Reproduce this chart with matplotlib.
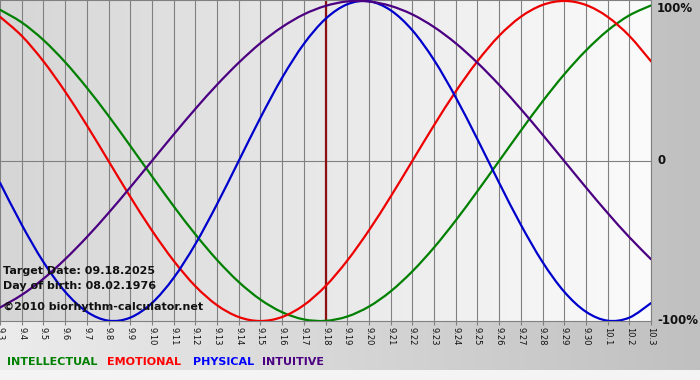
import numpy as np
import matplotlib
matplotlib.use("Agg")
import matplotlib.pyplot as plt
from matplotlib.path import Path
from matplotlib.patches import PathPatch

# ---- data ----
dates = ["9.3", "9.4", "9.5", "9.6", "9.7", "9.8", "9.9", "9.10", "9.11", "9.12",
         "9.13", "9.14", "9.15", "9.16", "9.17", "9.18", "9.19", "9.20", "9.21", "9.22",
         "9.23", "9.24", "9.25", "9.26", "9.27", "9.28", "9.29", "9.30", "10.1", "10.2", "10.3"]
target_label = "9.18"

physical = [-13.6, -39.8, -63.1, -81.7, -94.2, -99.8, -97.9, -88.8, -73.1, -52.0,
            -27.0, 0.0, 27.0, 52.0, 73.1, 88.8, 97.9, 99.8, 94.2, 81.7,
            63.1, 39.8, 13.6, -13.6, -39.8, -63.1, -81.7, -94.2, -99.8, -97.9, -88.8]
emotional = [90.1, 78.2, 62.3, 43.4, 22.3, 0.0, -22.3, -43.4, -62.3, -78.2,
             -90.1, -97.5, -100.0, -97.5, -90.1, -78.2, -62.3, -43.4, -22.3, 0.0,
             22.3, 43.4, 62.3, 78.2, 90.1, 97.5, 100.0, 97.5, 90.1, 78.2, 62.3]
intellectual = [94.5, 86.6, 75.6, 61.8, 45.8, 28.2, 9.5, -9.5, -28.2, -45.8,
                -61.8, -75.6, -86.6, -94.5, -99.0, -99.9, -97.2, -91.0, -81.5, -69.0,
                -54.1, -37.2, -18.9, 0.0, 18.9, 37.2, 54.1, 69.0, 81.5, 91.0, 97.2]
intuitive = [-91.6, -83.7, -73.6, -61.4, -47.6, -32.5, -16.5, 0.0, 16.5, 32.5,
             47.6, 61.4, 73.6, 83.7, 91.6, 96.9, 99.7, 99.7, 96.9, 91.6,
             83.7, 73.6, 61.4, 47.6, 32.5, 16.5, 0.0, -16.5, -32.5, -47.6, -61.4]

series_names = ["INTELLECTUAL", "EMOTIONAL", "PHYSICAL", "INTUITIVE"]
series_colors = ["#008000", "#ee0000", "#0000cc", "#4b0082"]
legend_colors = ["#008000", "#ff0000", "#0000ff", "#4b0082"]
ytick_labels = ["100%", "0", "-100%"]
info_lines = ["Target Date: 09.18.2025", "Day of birth: 08.02.1976",
              "\u00a92010 biorhythm-calculator.net"]


def smooth_path(xs, ys):
    """Smooth (Catmull-Rom style) bezier path passing through the data points."""
    p = np.column_stack([xs, ys]).astype(float)
    pp = np.vstack([p[0], p, p[-1]])
    verts = [tuple(p[0])]
    codes = [Path.MOVETO]
    for i in range(len(p) - 1):
        p0, p1, p2, p3 = pp[i], pp[i + 1], pp[i + 2], pp[i + 3]
        c1 = p1 + (p2 - p0) / 6.0
        c2 = p2 - (p3 - p1) / 6.0
        verts += [tuple(c1), tuple(c2), tuple(p2)]
        codes += [Path.CURVE4, Path.CURVE4, Path.CURVE4]
    return Path(verts, codes)


W, H = 700, 380
fig = plt.figure(figsize=(W / 100, H / 100), dpi=100)

# ---- background ----
bg = fig.add_axes([0, 0, 1, 1], zorder=-10)
grad = np.linspace(0xec, 0xc0, 256) / 255.0
img = np.dstack([grad, grad, grad]).reshape(1, 256, 3)
bg.imshow(img, extent=[0, W, 0, H], aspect="auto")
bg.add_patch(plt.Rectangle((0, 0), W, 10, color="#f4f4f4", lw=0))
bg.set_xlim(0, W)
bg.set_ylim(0, H)
bg.axis("off")

# ---- main plot ----
ax = fig.add_axes([0, 59 / H, 651 / W, 321 / H])
x = np.arange(len(dates))
ax.set_xlim(0, len(dates) - 1)
ax.set_ylim(-100, 100.6)

g2 = np.linspace(0xd6, 0xfb, 256) / 255.0
img2 = np.dstack([g2, g2, g2]).reshape(1, 256, 3)
ax.imshow(img2, extent=[0, len(dates) - 1, -100, 100.6], aspect="auto", zorder=0)

for xi in x:
    ax.axvline(xi, color="#808080", lw=0.8, zorder=1)
ax.axhline(0, color="#808080", lw=0.8, zorder=1)

ti = dates.index(target_label)
ax.axvline(ti, color="#8b1010", lw=1.6, zorder=2)

data = [intellectual, emotional, physical, intuitive]
for vals, c in zip(data, series_colors):
    patch = PathPatch(smooth_path(x, vals), facecolor="none", edgecolor=c,
                      lw=1.6, zorder=3, capstyle="round", joinstyle="round")
    ax.add_patch(patch)

for side in ["top", "right", "bottom"]:
    ax.spines[side].set_color("#808080")
    ax.spines[side].set_linewidth(0.8)
ax.spines["left"].set_visible(False)

ax.set_xticks(x)
ax.set_xticklabels(dates, rotation=-90, fontsize=6, color="#111111")
ax.tick_params(axis="x", length=3, width=0.8, color="#808080", pad=1)
ax.tick_params(axis="y", left=False, labelleft=False)

# y labels on the right (pixel rows of their centres)
ylab_px = [8, 161, 321]
for lab, py in zip(ytick_labels, ylab_px):
    fig.text(657 / W, 1 - py / H, lab, fontsize=8.5, fontweight="bold",
             ha="left", va="center", color="#111111")

# info text
info_y = [271, 286, 307]
for t, yy in zip(info_lines, info_y):
    fig.text(3 / W, 1 - yy / H, t, fontsize=8, fontweight="bold",
             ha="left", va="center", color="#111111")

# legend text
leg_x = [7, 107, 193, 262]
for name, c, lx in zip(series_names, legend_colors, leg_x):
    fig.text(lx / W, 1 - 362 / H, name, fontsize=8, fontweight="bold",
             ha="left", va="center", color=c)

fig.savefig("out.png", dpi=100)
